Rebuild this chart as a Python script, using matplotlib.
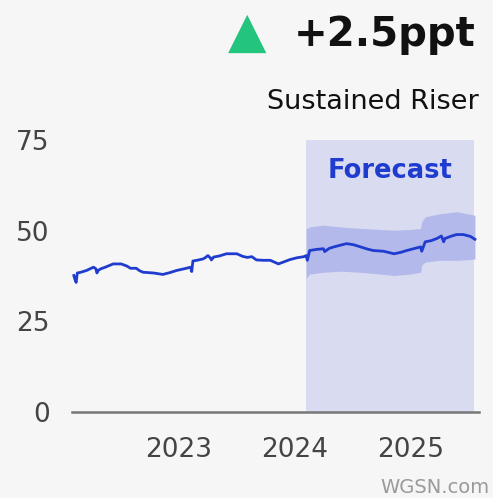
import matplotlib
matplotlib.use("Agg")
import matplotlib.pyplot as plt

# ── Data (decimal years) ──────────────────────────────────────────────────────
dates = [2022.09, 2022.10, 2022.11, 2022.12, 2022.15, 2022.20, 2022.24, 2022.26,
         2022.28, 2022.29, 2022.30, 2022.32, 2022.37, 2022.43, 2022.50, 2022.55,
         2022.58, 2022.63, 2022.66, 2022.69, 2022.78, 2022.86, 2022.92, 2022.98,
         2023.05, 2023.10, 2023.11, 2023.12, 2023.17, 2023.21, 2023.23, 2023.25,
         2023.27, 2023.28, 2023.30, 2023.35, 2023.41, 2023.50, 2023.55, 2023.59,
         2023.63, 2023.67, 2023.73, 2023.79, 2023.86, 2023.91, 2023.96, 2024.02,
         2024.08, 2024.10, 2024.11, 2024.13, 2024.19, 2024.25, 2024.26, 2024.30,
         2024.34, 2024.40, 2024.45, 2024.51, 2024.57, 2024.63, 2024.68, 2024.77,
         2024.86, 2024.92, 2024.97, 2025.03, 2025.09, 2025.10, 2025.13, 2025.18,
         2025.23, 2025.27, 2025.29, 2025.30, 2025.35, 2025.40, 2025.46, 2025.52,
         2025.56]
values = [37.6, 36.5, 35.7, 38.3, 38.5, 39.0, 39.6, 39.9,
          39.5, 38.3, 39.0, 39.4, 40.0, 40.8, 40.8, 40.2,
          39.6, 39.6, 38.9, 38.5, 38.3, 37.9, 38.4, 39.0,
          39.5, 39.9, 38.7, 41.6, 41.9, 42.2, 42.6, 43.1,
          42.5, 41.9, 42.7, 43.0, 43.6, 43.6, 42.9, 42.6,
          42.8, 41.9, 41.8, 41.8, 40.8, 41.4, 42.0, 42.5,
          42.8, 43.1, 41.8, 44.5, 44.8, 45.0, 44.2, 45.1,
          45.5, 46.0, 46.4, 46.1, 45.5, 44.9, 44.5, 44.3,
          43.6, 44.0, 44.5, 45.0, 45.5, 44.3, 46.9, 47.2,
          47.8, 48.5, 46.9, 47.8, 48.4, 48.9, 48.9, 48.4,
          47.6]

band_dates = [2024.10, 2024.13, 2024.25, 2024.40, 2024.57, 2024.75, 2024.86,
              2025.00, 2025.09, 2025.10, 2025.13, 2025.25, 2025.40, 2025.52, 2025.56]
band_upper = [50.5, 51.0, 51.5, 51.0, 50.6, 50.3, 50.1,
              50.3, 50.6, 52.5, 53.8, 54.6, 55.2, 54.5, 54.2]
band_lower = [36.8, 38.0, 38.5, 38.8, 38.5, 38.0, 37.6,
              38.0, 38.5, 40.5, 41.3, 41.8, 41.8, 42.0, 42.2]

forecast_start, forecast_end = 2024.10, 2025.55
year_ticks = [2023, 2024, 2025]
y_ticks = [0, 25, 50, 75]

BG = "#f6f6f6"
BLUE = "#1f3ccf"

fig = plt.figure(figsize=(4.93, 4.98), dpi=100, facecolor=BG)
ax = fig.add_axes([0.146, 0.173, 0.826, 0.546], facecolor=BG)

ax.axvspan(forecast_start, forecast_end, color="#d9dcf0", lw=0, zorder=1)
ax.fill_between(band_dates, band_lower, band_upper, color="#b3b9ea", lw=0, zorder=2)
ax.plot(dates, values, color=BLUE, lw=2.0, zorder=3)

ax.set_xlim(2022.074, 2025.597)
ax.set_ylim(0, 75)
ax.set_xticks(year_ticks)
ax.set_yticks(y_ticks)
ax.tick_params(length=0, colors="#444444", labelsize=19)
ax.tick_params(axis="x", pad=18)
ax.tick_params(axis="y", pad=16)
for s in ["top", "right", "left"]:
    ax.spines[s].set_visible(False)
ax.spines["bottom"].set_color("#777777")
ax.spines["bottom"].set_linewidth(1.8)

ax.text(0.5 * (forecast_start + forecast_end), 66.5, "Forecast", color=BLUE,
        fontsize=18.5, fontweight="bold", ha="center", va="center", zorder=4)

fig.text(247 / 493, 1 - 33 / 498, "▲", color="#22c47e", fontsize=36,
         ha="center", va="center")
fig.text(476 / 493, 1 - 35 / 498, "+2.5ppt", color="#111111", fontsize=29,
         fontweight="bold", ha="right", va="center")
fig.text(479 / 493, 1 - 102 / 498, "Sustained Riser", color="#111111", fontsize=19.5,
         ha="right", va="center")
fig.text(489 / 493, 1 - 487 / 498, "WGSN.com", color="#9a9a9a", fontsize=14,
         ha="right", va="center")

plt.savefig("out.png", dpi=100, facecolor=BG)
